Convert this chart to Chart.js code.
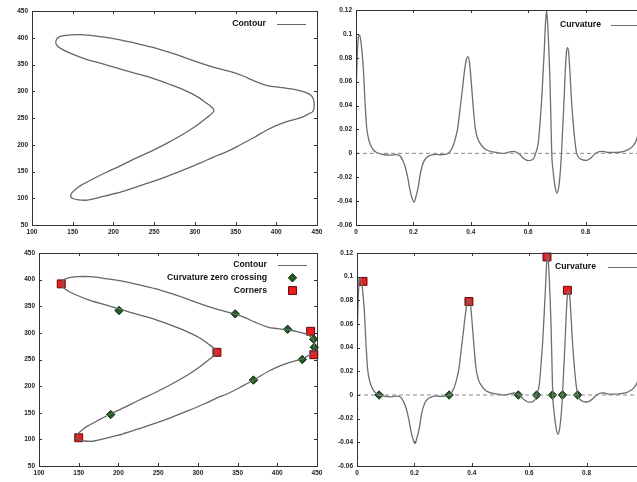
<!DOCTYPE html>
<html>
<head>
<meta charset="utf-8">
<script src="https://cdn.jsdelivr.net/npm/chart.js@4.4.0/dist/chart.umd.min.js"></script>
<style>
  html, body { margin: 0; padding: 0; background: #fff; }
  body { width: 637px; height: 482px; overflow: hidden; position: relative; }
  canvas { position: absolute; }
</style>
</head>
<body>
<canvas id="c1" width="330" height="240" style="left:0;top:0"></canvas>
<canvas id="c2" width="340" height="240" style="left:318px;top:0"></canvas>
<canvas id="c3" width="330" height="242" style="left:0;top:240px"></canvas>
<canvas id="c4" width="340" height="242" style="left:318px;top:240px"></canvas>
<script>
// contour of the shape (closed curve)
const contourX = [129, 131, 137, 148, 164, 184, 205, 225, 246, 266, 287, 307, 327, 347, 360, 372, 388, 400, 413, 425, 434, 440, 444, 446, 446.5, 446, 444, 440, 431, 417, 405, 389, 372, 356, 340, 323, 307, 287, 266, 246, 225, 205, 185, 168, 157, 150, 147.5, 149, 153, 160, 176, 192, 209, 225, 246, 266, 287, 303, 315, 322, 323.5, 321, 315, 303, 287, 266, 246, 225, 205, 185, 164, 144, 134, 130, 129];
const contourY = [392, 399, 403.5, 405.5, 405.5, 402, 397, 390.5, 383, 374, 363.5, 352.5, 343, 335.5, 328, 320, 311, 308, 305.5, 302.5, 299, 295, 290, 283, 275, 266, 261, 258, 251, 245, 239, 228, 213, 200, 187.5, 177, 166, 153.5, 141, 130, 119.5, 110, 102.5, 96.5, 97, 99.5, 104, 110, 116, 124, 137, 149, 161, 173, 187.5, 203, 221, 237, 251, 260, 264, 270, 277, 290, 302, 314.5, 325.5, 334.5, 343, 352, 361, 373, 381, 387, 392];

// detected points on the contour
const zeroCrossX = [200.8, 347, 413, 445.8, 446.6, 431.5, 370, 190.3];
const zeroCrossY = [342, 335.7, 306.8, 288, 273, 250, 211.4, 146.7];
const cornerX = [128, 150, 324, 442, 446];
const cornerY = [392, 103, 263.5, 303, 259];

// curvature along the normalised contour length
const curvX = [0.000, 0.004, 0.009, 0.013, 0.018, 0.025, 0.031, 0.037, 0.043, 0.049, 0.060, 0.072, 0.085, 0.100, 0.120, 0.140, 0.153, 0.163, 0.171, 0.180, 0.188, 0.196, 0.202, 0.208, 0.217, 0.225, 0.235, 0.246, 0.258, 0.270, 0.281, 0.295, 0.310, 0.321, 0.328, 0.338, 0.345, 0.355, 0.362, 0.370, 0.377, 0.384, 0.390, 0.396, 0.401, 0.408, 0.415, 0.423, 0.432, 0.445, 0.455, 0.470, 0.490, 0.513, 0.530, 0.548, 0.562, 0.571, 0.580, 0.589, 0.600, 0.610, 0.620, 0.626, 0.635, 0.641, 0.647, 0.652, 0.656, 0.660, 0.664, 0.668, 0.672, 0.676, 0.679, 0.682, 0.687, 0.693, 0.700, 0.707, 0.712, 0.716, 0.720, 0.725, 0.729, 0.733, 0.737, 0.741, 0.745, 0.750, 0.756, 0.761, 0.769, 0.778, 0.790, 0.802, 0.812, 0.822, 0.835, 0.848, 0.860, 0.879, 0.908, 0.930, 0.943, 0.955, 0.966, 0.975, 0.983, 0.990, 1.000];
const curvY = [0.045, 0.080, 0.098, 0.099, 0.092, 0.073, 0.045, 0.022, 0.013, 0.008, 0.003, 0.0007, -0.0005, -0.0012, -0.0015, -0.0010, -0.0020, -0.0060, -0.011, -0.020, -0.0305, -0.038, -0.041, -0.037, -0.028, -0.016, -0.0075, -0.0035, -0.0018, -0.0010, -0.0009, -0.0012, -0.0009, 0.0000, 0.0016, 0.0060, 0.0113, 0.022, 0.036, 0.052, 0.067, 0.078, 0.081, 0.075, 0.0615, 0.040, 0.022, 0.013, 0.0085, 0.0045, 0.0028, 0.0015, 0.0008, 0.0000, 0.0008, 0.0017, 0.0005, -0.0010, -0.0035, -0.0050, -0.0061, -0.0058, -0.0039, 0.0000, 0.0085, 0.025, 0.045, 0.068, 0.0866, 0.108, 0.1195, 0.108, 0.0866, 0.060, 0.030, 0.000, -0.015, -0.027, -0.0333, -0.027, -0.015, 0.000, 0.020, 0.045, 0.068, 0.084, 0.0885, 0.084, 0.070, 0.048, 0.028, 0.014, 0.000, -0.004, -0.0055, -0.0059, -0.0050, -0.0030, 0.0000, 0.0015, 0.0017, 0.0008, 0.0008, 0.0015, 0.0025, 0.0040, 0.0065, 0.0100, 0.016, 0.025, 0.045];
const zeroLineX = [0, 1];
const zeroLineY = [0, 0];
const kZeroX = [0.077, 0.321, 0.562, 0.626, 0.681, 0.716, 0.769];
const kZeroY = [0, 0, 0, 0, 0, 0, 0];
const kCornerX = [0.021, 0.390, 0.662, 0.733];
const kCornerY = [0.096, 0.079, 0.1166, 0.0885];
const kNegX = [0.202];
const kNegY = [-0.040];

// axis ranges
const contourXRange = [100, 450, 50];
const contourYRange = [50, 450, 50];
const curvXRange = [0, 1, 0.2];
const curvYRange = [-0.06, 0.12, 0.02];

const pairs = (xs, ys) => xs.map((x, i) => ({ x: x, y: ys[i] }));

const tickFont = { family: 'Liberation Sans, Arial, sans-serif', size: 6.5, weight: 'bold' };
const legendFont = 'bold 8.7px "Liberation Sans", Arial, sans-serif';

const framePlugin = {
    id: 'frame',
    afterDatasetsDraw(chart) {
        const ctx = chart.ctx, a = chart.chartArea;
        ctx.save();
        ctx.strokeStyle = '#333';
        ctx.lineWidth = 1;
        ctx.strokeRect(Math.round(a.left) + 0.5, Math.round(a.top) + 0.5, Math.round(a.right - a.left), Math.round(a.bottom - a.top));
        ctx.beginPath();
        chart.scales.x.ticks.forEach(t => {
            const px = Math.round(chart.scales.x.getPixelForValue(t.value)) + 0.5;
            ctx.moveTo(px, a.bottom); ctx.lineTo(px, a.bottom - 3);
            ctx.moveTo(px, a.top); ctx.lineTo(px, a.top + 3);
        });
        chart.scales.y.ticks.forEach(t => {
            const py = Math.round(chart.scales.y.getPixelForValue(t.value)) + 0.5;
            ctx.moveTo(a.left, py); ctx.lineTo(a.left + 3, py);
            ctx.moveTo(a.right, py); ctx.lineTo(a.right - 3, py);
        });
        ctx.stroke();
        ctx.restore();
    },
    afterDraw(chart, args, opts) {
        const ctx = chart.ctx;
        ctx.save();
        ctx.font = legendFont;
        ctx.textAlign = 'right';
        ctx.textBaseline = 'middle';
        let y = opts.y;
        chart.data.datasets.forEach(ds => {
            if (!ds.label) return;
            ctx.fillStyle = '#111';
            ctx.fillText(ds.label, opts.textRight, y);
            if (ds.showLine) {
                ctx.strokeStyle = ds.borderColor;
                ctx.lineWidth = 1;
                ctx.beginPath();
                ctx.moveTo(opts.sx1, y + 0.5); ctx.lineTo(opts.sx2, y + 0.5);
                ctx.stroke();
            } else {
                ctx.fillStyle = ds.pointBackgroundColor;
                ctx.strokeStyle = ds.pointBorderColor;
                ctx.lineWidth = 1;
                Chart.helpers.drawPoint(ctx, { pointStyle: ds.pointStyle, radius: ds.pointRadius, rotation: 0, borderWidth: 1 }, (opts.sx1 + opts.sx2) / 2, y);
            }
            y += opts.lineH;
        });
        ctx.restore();
    }
};

function scaleOpts(range, size, isX) {
    return {
        type: 'linear',
        min: range[0], max: range[1],
        grid: { display: false, drawTicks: false },
        border: { display: false },
        ticks: {
            stepSize: range[2], autoSkip: false, maxRotation: 0,
            font: tickFont, color: '#222', padding: isX ? 3 : 4,
            callback: v => String(+(+v).toFixed(3))
        },
        afterFit: s => { if (isX) s.height = size; else s.width = size; }
    };
}

function makeChart(id, datasets, xr, yr, lay, legend) {
    return new Chart(document.getElementById(id), {
        type: 'scatter',
        data: { datasets: datasets },
        options: {
            responsive: false,
            animation: false,
            events: [],
            layout: { padding: { top: lay.top, right: lay.right, left: 0, bottom: 0 } },
            scales: {
                x: scaleOpts(xr, lay.xh, true),
                y: scaleOpts(yr, lay.yw, false)
            },
            plugins: { legend: { display: false }, tooltip: { enabled: false }, frame: legend }
        },
        plugins: [framePlugin]
    });
}

const contourSet = (label) => ({
    label: label, data: pairs(contourX, contourY), showLine: true,
    borderColor: '#666', borderWidth: 1.3, pointRadius: 0, tension: 0.35, fill: false
});
const zeroLineSet = () => ({
    label: '', data: pairs(zeroLineX, zeroLineY), showLine: true,
    borderColor: '#8a8a8a', borderWidth: 1, borderDash: [4, 3], pointRadius: 0
});
const curvSet = () => ({
    label: 'Curvature', data: pairs(curvX, curvY), showLine: true,
    borderColor: '#6e6e6e', borderWidth: 1.3, pointRadius: 0, cubicInterpolationMode: 'monotone'
});
const diamondSet = (label, xs, ys) => ({
    label: label, data: pairs(xs, ys), showLine: false, clip: false,
    pointStyle: 'rectRot', pointRadius: 4.2, pointBackgroundColor: '#1f5e1f', pointBorderColor: '#0a2a0a', pointBorderWidth: 1
});
const squareSet = (label, xs, ys) => ({
    label: label, data: pairs(xs, ys), showLine: false, clip: false,
    pointStyle: 'rect', pointRadius: 5.6, pointBackgroundColor: '#ee1c1c', pointBorderColor: '#5a0a0a', pointBorderWidth: 1
});

makeChart('c1', [contourSet('Contour')], contourXRange, contourYRange,
    { top: 11, right: 13, xh: 15, yw: 32 },
    { textRight: 266, y: 24, lineH: 12.8, sx1: 277, sx2: 306 });

makeChart('c2', [zeroLineSet(), curvSet()], curvXRange, curvYRange,
    { top: 10, right: 15, xh: 15, yw: 38 },
    { textRight: 283, y: 25, lineH: 12.8, sx1: 293, sx2: 323 });

makeChart('c3', [contourSet('Contour'), diamondSet('Curvature zero crossing', zeroCrossX, zeroCrossY), squareSet('Corners', cornerX, cornerY)],
    contourXRange, contourYRange,
    { top: 13, right: 13, xh: 16, yw: 39 },
    { textRight: 267, y: 25, lineH: 12.8, sx1: 278, sx2: 307 });

const negSet = {
    label: '', data: pairs(kNegX, kNegY), showLine: false, clip: false,
    pointStyle: 'rect', pointRadius: 1.6, pointBackgroundColor: '#8a1010', pointBorderColor: '#8a1010', pointBorderWidth: 0
};
makeChart('c4', [zeroLineSet(), curvSet(), diamondSet('', kZeroX, kZeroY), squareSet('', kCornerX, kCornerY), negSet],
    curvXRange, curvYRange,
    { top: 13, right: 14, xh: 16, yw: 39 },
    { textRight: 278, y: 27, lineH: 12.8, sx1: 290, sx2: 321 });
</script>
</body>
</html>
